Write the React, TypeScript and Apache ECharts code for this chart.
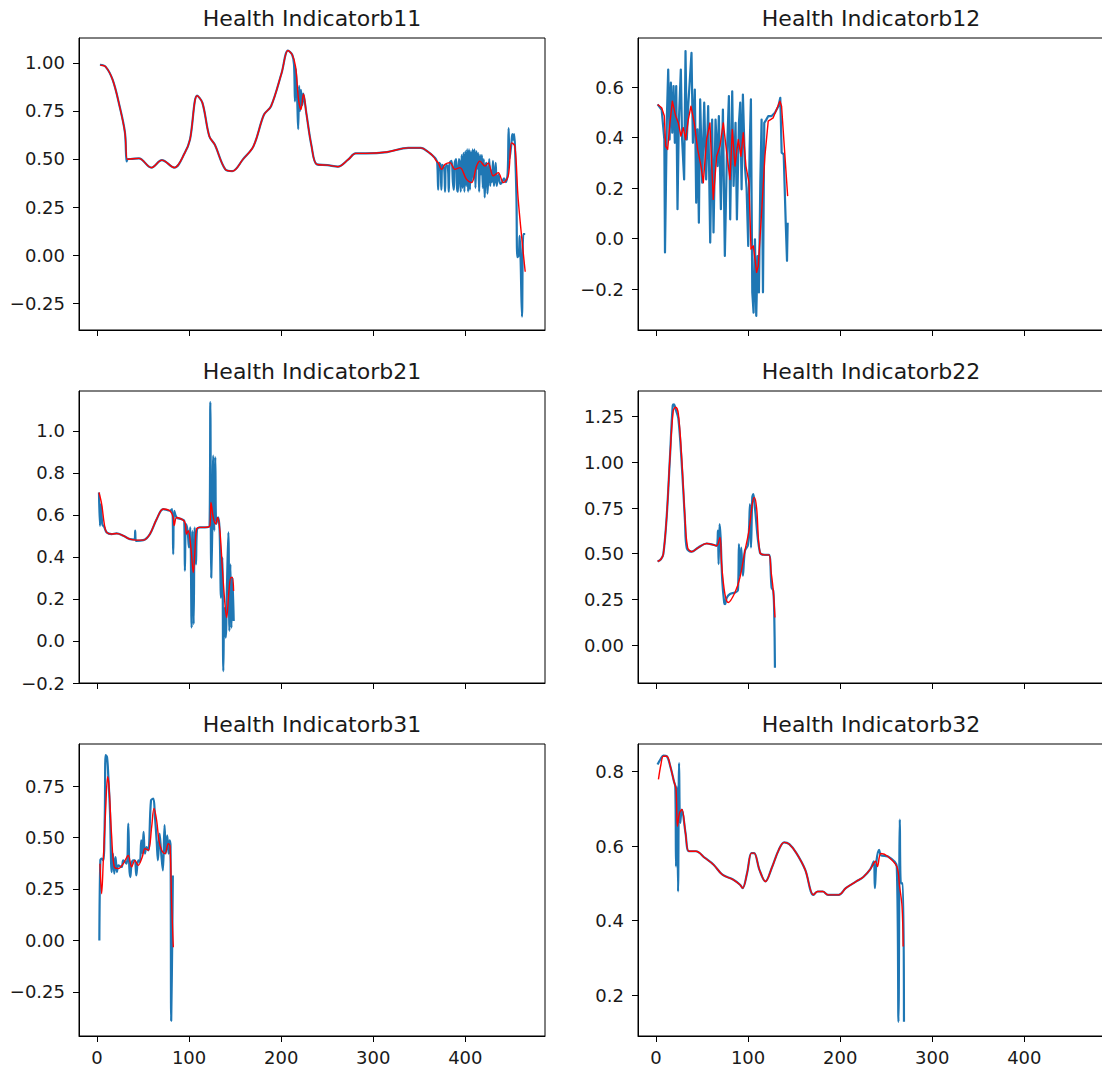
import React, { useEffect, useRef } from "react";
import * as echarts from "echarts";

type P = [number, number];

const titles = [
  "Health Indicatorb11",
  "Health Indicatorb12",
  "Health Indicatorb21",
  "Health Indicatorb22",
  "Health Indicatorb31",
  "Health Indicatorb32",
];

const xTicks = [0, 100, 200, 300, 400];
const xMin = -19.5;

const yTicks11 = [-0.25, 0, 0.25, 0.5, 0.75, 1.0];
const yTicks12 = [-0.2, 0, 0.2, 0.4, 0.6];
const yTicks21 = [-0.2, 0, 0.2, 0.4, 0.6, 0.8, 1.0];
const yTicks22 = [0, 0.25, 0.5, 0.75, 1.0, 1.25];
const yTicks31 = [-0.25, 0, 0.25, 0.5, 0.75];
const yTicks32 = [0.2, 0.4, 0.6, 0.8];

const yLimits: P[] = [
  [-0.389, 1.129],
  [-0.362, 0.794],
  [-0.2, 1.19],
  [-0.207, 1.39],
  [-0.4645, 0.9545],
  [0.09, 0.874],
];
const yDecimals = [2, 1, 1, 2, 2, 1];

// ---- b11 ----
const b11Raw: P[] = [
  [3.2, 0.99], [9.3, 0.98], [17, 0.912], [24.6, 0.774], [30.4, 0.637], [32.2, 0.487], [33.5, 0.5],
  [36.4, 0.5], [45.6, 0.503], [59, 0.455], [70.5, 0.494], [84, 0.455], [95.4, 0.532], [101, 0.601],
  [108.8, 0.829], [114.5, 0.792], [122, 0.618], [127.9, 0.575], [139.4, 0.446], [147, 0.437],
  [158.5, 0.498], [170, 0.567], [181.4, 0.731], [189, 0.774], [200.5, 0.947], [207.4, 1.064],
  [212, 1.042], [214, 0.99], [215, 0.8], [216, 0.97], [217.5, 0.8], [218.5, 0.655], [219.5, 0.88],
  [220.5, 0.75], [221.5, 0.86], [223, 0.78], [224, 0.84], [227.3, 0.74], [233, 0.567], [238.8, 0.472],
  [250.2, 0.468], [261.7, 0.46], [273, 0.498], [280.8, 0.529], [292, 0.529], [315, 0.536],
  [338, 0.558], [351.5, 0.558], [361, 0.532], [365, 0.515],
  [368, 0.5], [369.5, 0.48], [370.5, 0.34], [371.5, 0.48], [373, 0.47], [374, 0.34], [375, 0.47],
  [377, 0.45], [378, 0.33], [379, 0.47], [381, 0.46], [382, 0.33], [383, 0.48], [385, 0.49],
  [386.5, 0.38], [387.5, 0.34], [388.5, 0.48], [390, 0.5], [391, 0.35], [392, 0.33], [393, 0.5],
  [394, 0.47], [395, 0.33], [396, 0.52], [397, 0.35], [398, 0.53], [399, 0.33], [400, 0.54],
  [401, 0.36], [402, 0.55], [403, 0.33], [404, 0.55], [405, 0.34], [406, 0.54], [407, 0.38],
  [408, 0.55], [409, 0.4], [410, 0.55], [411, 0.35], [412, 0.54], [413, 0.45], [414, 0.53],
  [415, 0.33], [416, 0.52], [417, 0.42], [418, 0.52], [419, 0.35], [420, 0.5], [421, 0.3],
  [422, 0.46], [423, 0.48], [424, 0.32], [425, 0.42], [426, 0.5], [427, 0.36], [428, 0.44],
  [429, 0.38], [430, 0.49], [431, 0.36], [432, 0.4], [433, 0.48], [434, 0.36], [436, 0.42],
  [438, 0.37], [440, 0.38], [442, 0.4], [444, 0.38], [446, 0.43], [447, 0.66], [448, 0.5],
  [450, 0.58], [451, 0.63], [452, 0.6], [453, 0.63], [454, 0.55], [455.5, 0.3], [456.5, -0.01],
  [458, 0.0], [459, 0.1], [460, -0.02], [461.5, -0.32], [463, 0.11], [465, 0.11],
];
const b11Smooth: P[] = [
  [3.7, 0.987], [9.3, 0.98], [17, 0.912], [24.6, 0.774], [30.4, 0.637], [33, 0.498], [36.4, 0.5],
  [45.6, 0.503], [59, 0.455], [70.5, 0.494], [84, 0.455], [95.4, 0.532], [101, 0.601], [108.8, 0.829],
  [114.5, 0.792], [122, 0.618], [127.9, 0.575], [139.4, 0.446], [147, 0.437], [158.5, 0.498],
  [170, 0.567], [181.4, 0.731], [189, 0.774], [200.5, 0.947], [207.4, 1.064], [212, 1.042],
  [215.6, 0.981], [218.9, 0.809], [221.5, 0.757], [224.2, 0.838], [227.3, 0.74], [233, 0.567],
  [238.8, 0.472], [250.2, 0.468], [261.7, 0.46], [273, 0.498], [280.8, 0.529], [292, 0.529],
  [315, 0.536], [338, 0.558], [351.5, 0.558], [361, 0.532], [365, 0.515], [368.7, 0.489],
  [370.6, 0.48], [374.2, 0.446], [377.9, 0.472], [383.3, 0.481], [388.7, 0.446], [394.1, 0.455],
  [401.3, 0.394], [406.7, 0.377], [412.2, 0.463], [415.8, 0.489], [421.3, 0.463], [424.9, 0.48],
  [430.3, 0.412], [435.7, 0.429], [441.2, 0.377], [446.6, 0.412], [450.2, 0.584], [453.8, 0.567],
  [457.4, 0.29], [465, -0.086],
];

// ---- b12 ----
const b12Raw: P[] = [
  [1.8, 0.531], [6.2, 0.51], [9.1, 0.392], [9.8, -0.055], [11.9, 0.485], [13.3, 0.669], [14.8, 0.392],
  [16.2, 0.617], [17.7, 0.419], [19.1, 0.604], [20.5, 0.379], [22, 0.604], [23.4, 0.116], [24.8, 0.458],
  [27, 0.669], [28.4, 0.392], [30.6, 0.234], [32.1, 0.742], [33.5, 0.392], [35, 0.524], [38.6, 0.735],
  [40.1, 0.379], [42.2, 0.59], [43.7, 0.142], [45.1, 0.432], [46.6, 0.063], [48, 0.551], [50.2, 0.221],
  [52.4, 0.538], [54.5, 0.234], [56.7, 0.524], [58.9, -0.016], [61, 0.471], [62.5, 0.024], [64.7, 0.471],
  [66.9, 0.287], [68.3, 0.485], [70.5, 0.116], [72.7, 0.511], [74.8, -0.069], [77, 0.326], [79.2, 0.564],
  [80.6, 0.076], [82.8, 0.583], [84.3, 0.208], [86.4, 0.458], [87.9, 0.076], [90.1, 0.458], [91.5, 0.538],
  [93, 0.195], [94.4, 0.57], [96.6, 0.287], [98.4, 0.2], [100.2, -0.029], [101.7, 0.353], [103.1, 0.551],
  [104.6, -0.213], [106, -0.293], [107.5, -0.003], [108.9, -0.306], [110.4, -0.069], [111.8, -0.213],
  [113.3, 0.221], [114.7, 0.471], [116.2, -0.213], [117.6, 0.458], [119.8, 0.471], [122, 0.485],
  [125.6, 0.485], [129.2, 0.498], [132.9, 0.524], [135, 0.557], [136.5, 0.34], [138.7, 0.333],
  [140.9, 0.063], [142.3, -0.088], [143, 0.063],
];
const b12Smooth: P[] = [
  [1.8, 0.531], [6.2, 0.518], [9.1, 0.485], [10.5, 0.366], [12.7, 0.353], [15.2, 0.458], [17.8, 0.544],
  [21.4, 0.485], [24.3, 0.458], [27.1, 0.406], [29.7, 0.439], [32.2, 0.392], [35.1, 0.471], [38, 0.524],
  [41.6, 0.458], [45.3, 0.353], [48.9, 0.287], [51.4, 0.221], [55, 0.392], [58.6, 0.458], [62.2, 0.155],
  [65.9, 0.326], [69.5, 0.366], [73.1, 0.458], [76.8, 0.34], [80.4, 0.234], [82.9, 0.432], [85.8, 0.287],
  [89.4, 0.392], [92.3, 0.326], [94.8, 0.419], [97.7, 0.287], [101, 0.221], [103.2, -0.042],
  [105.7, -0.029], [109.3, -0.134], [111.1, -0.108], [114.7, 0.103], [118.3, 0.326], [121.9, 0.465],
  [127.3, 0.478], [134.6, 0.544], [136.4, 0.524], [143, 0.168],
];

// ---- b21 ----
const b21Raw: P[] = [
  [2.2, 0.707], [3.3, 0.548], [4.4, 0.652], [5.8, 0.556], [8, 0.541], [10.5, 0.517], [15.9, 0.509],
  [21.4, 0.512], [28.6, 0.501], [35.8, 0.485], [41, 0.483], [41.5, 0.525], [42.3, 0.477], [50.3, 0.48],
  [57.5, 0.509], [64.8, 0.58], [72, 0.628], [79.2, 0.62], [81.7, 0.628], [82.8, 0.413], [83.9, 0.62],
  [86.5, 0.588], [91.9, 0.58], [94.8, 0.572], [95.5, 0.334], [96.6, 0.557], [98.4, 0.525], [99.9, 0.445],
  [101.3, 0.541], [102.8, 0.063], [103.9, 0.525], [105, 0.08], [106.1, 0.541], [107.5, 0.365],
  [108.6, 0.53], [111.8, 0.541], [117.3, 0.541], [122.3, 0.549], [123.1, 1.137], [124.1, 0.302],
  [125.2, 0.525], [126.3, 0.882], [127.4, 0.525], [128.5, 0.874], [129.6, 0.557], [131.7, 0.588],
  [133.2, 0.525], [134.7, 0.206], [136.1, 0.397], [137.2, -0.143], [138.3, 0.159], [139.8, 0.016],
  [141.2, 0.27], [142.7, 0.517], [143.8, 0.048], [144.9, 0.365], [146, 0.063], [147.1, 0.302],
  [148.5, 0.095],
];
const b21Smooth: P[] = [
  [2.2, 0.707], [5.1, 0.652], [8, 0.556], [10.5, 0.517], [15.9, 0.509], [21.4, 0.512], [28.6, 0.501],
  [35.8, 0.485], [43, 0.48], [50.3, 0.48], [57.5, 0.509], [64.8, 0.58], [72, 0.628], [79.2, 0.62],
  [82.8, 0.588], [83.9, 0.549], [86.5, 0.588], [91.9, 0.58], [95.5, 0.565], [97.3, 0.509], [99.1, 0.525],
  [102, 0.445], [104.6, 0.326], [106.4, 0.43], [108.2, 0.533], [111.8, 0.541], [117.3, 0.541],
  [122.7, 0.549], [123.8, 0.66], [126.3, 0.588], [128.8, 0.557], [131, 0.588], [133.5, 0.525],
  [136.1, 0.35], [139, 0.175], [140.8, 0.111], [143.3, 0.238], [145.5, 0.302], [147, 0.302],
  [148.4, 0.238],
];

// ---- b22 ----
const b22Raw: P[] = [
  [1.8, 0.458], [5.4, 0.47], [8, 0.498], [11.6, 0.699], [15.2, 1.027], [18.2, 1.31], [19.5, 1.317],
  [21.4, 1.29], [24.3, 1.24], [27.9, 1.0], [31.5, 0.68], [33.5, 0.53], [38.8, 0.511], [46, 0.534],
  [55, 0.556], [62.2, 0.549], [65.9, 0.543], [67.3, 0.626], [68, 0.443], [69.1, 0.662], [70.2, 0.589],
  [72, 0.352], [74.1, 0.233], [75, 0.224], [77, 0.26], [80.4, 0.28], [85.8, 0.288], [89, 0.3],
  [90.1, 0.553], [91.2, 0.38], [92.6, 0.534], [94.4, 0.38], [96.6, 0.516], [100, 0.55], [102.1, 0.772],
  [103.2, 0.534], [104.6, 0.808], [105.7, 0.826], [107.5, 0.75], [112.9, 0.507], [118.3, 0.494],
  [122.7, 0.494], [125.6, 0.315], [127.4, 0.297], [128.5, 0.151], [129.2, -0.123],
];
const b22Smooth: P[] = [
  [1.8, 0.458], [5.4, 0.47], [8, 0.498], [11.6, 0.699], [15.2, 1.027], [18.8, 1.283], [21.4, 1.301],
  [24.3, 1.265], [27.9, 1.027], [31.5, 0.699], [34.4, 0.534], [38.8, 0.511], [46, 0.534], [55, 0.556],
  [62.2, 0.549], [65.9, 0.543], [69.5, 0.589], [71.3, 0.443], [74.9, 0.279], [78.5, 0.233],
  [85.8, 0.288], [91.2, 0.37], [96.6, 0.516], [101, 0.626], [104.6, 0.772], [106.8, 0.808],
  [109.3, 0.75], [112.9, 0.507], [118.3, 0.494], [122.7, 0.494], [124.9, 0.407], [127.4, 0.297],
  [129.2, 0.151],
];

// ---- b31 ----
const b31Raw: P[] = [
  [2.6, 0.0], [3.7, 0.389], [5.1, 0.397], [6.9, 0.389], [8.5, 0.6], [9.4, 0.9], [10.9, 0.892],
  [12.3, 0.8], [14.1, 0.632], [16, 0.332], [17.4, 0.422], [18.8, 0.324], [20.2, 0.405], [21.7, 0.332],
  [23.2, 0.365], [26.8, 0.357], [28.6, 0.389], [32.2, 0.373], [34, 0.568], [35.1, 0.357], [36.2, 0.308],
  [37.6, 0.373], [39.4, 0.389], [41.2, 0.389], [42.7, 0.316], [44.8, 0.389], [46.6, 0.381],
  [48.1, 0.486], [49.5, 0.422], [50.6, 0.527], [52.1, 0.422], [53.9, 0.454], [55.8, 0.438],
  [58.7, 0.681], [61.2, 0.689], [63, 0.6], [64.8, 0.486], [66.2, 0.389], [68, 0.519], [69.8, 0.422],
  [71.6, 0.34], [73.4, 0.56], [74.8, 0.422], [76.3, 0.51], [77.8, 0.422], [78.9, 0.486], [79.9, 0.454],
  [80.6, -0.39], [81.7, -0.017], [82.4, 0.316],
];
const b31Smooth: P[] = [
  [3.3, 0.373], [5.1, 0.227], [6.9, 0.389], [9.4, 0.632], [11.6, 0.795], [13.1, 0.746], [16, 0.503],
  [18.8, 0.357], [23.2, 0.349], [28.6, 0.373], [34, 0.413], [37.6, 0.357], [41.2, 0.389], [44.8, 0.365],
  [49.2, 0.405], [52.1, 0.446], [55.8, 0.438], [59.4, 0.552], [61.9, 0.641], [64.8, 0.584],
  [67.3, 0.486], [70.2, 0.438], [73.8, 0.422], [77.5, 0.47], [79.3, 0.46], [81.1, 0.178], [82.9, -0.033],
];

// ---- b32 ----
const b32Raw: P[] = [
  [1.7, 0.819], [5.4, 0.835], [8, 0.843], [11.8, 0.841], [15.6, 0.814], [19.5, 0.774], [21, 0.76],
  [21.8, 0.545], [22.8, 0.76], [24, 0.478], [25.1, 0.823], [26.3, 0.662], [28.2, 0.698], [32.1, 0.635],
  [35.8, 0.586], [43.4, 0.586], [53.2, 0.568], [62.6, 0.55], [72.2, 0.523], [83.7, 0.51], [91.3, 0.496],
  [94.1, 0.487], [99, 0.528], [103.6, 0.581], [106.6, 0.581], [112.4, 0.536], [118.9, 0.505],
  [125.7, 0.541], [133.4, 0.59], [139.2, 0.61], [144.8, 0.605], [152.5, 0.581], [162.1, 0.536],
  [170.9, 0.469], [175.5, 0.478], [181.2, 0.478], [186.9, 0.469], [198.4, 0.469], [206.1, 0.487],
  [217.5, 0.505], [225.2, 0.517], [232.8, 0.538], [236.5, 0.559], [237.7, 0.487], [239.5, 0.56],
  [242.3, 0.59], [244.3, 0.575], [251.9, 0.572], [261.5, 0.545], [263.3, 0.128], [264.8, 0.671],
  [266, 0.5], [268, 0.5], [269.3, 0.128],
];
const b32Smooth: P[] = [
  [2.7, 0.779], [5.4, 0.819], [8, 0.841], [11.8, 0.841], [15.6, 0.814], [19.5, 0.774], [21.8, 0.752],
  [23.3, 0.653], [25.6, 0.689], [28.2, 0.698], [32.1, 0.635], [35.8, 0.586], [43.4, 0.586],
  [53.2, 0.568], [62.6, 0.55], [72.2, 0.523], [83.7, 0.51], [91.3, 0.496], [94.1, 0.487], [99, 0.528],
  [103.6, 0.581], [106.6, 0.581], [112.4, 0.536], [118.9, 0.505], [125.7, 0.541], [133.4, 0.59],
  [139.2, 0.61], [144.8, 0.605], [152.5, 0.581], [162.1, 0.536], [170.9, 0.469], [175.5, 0.478],
  [181.2, 0.478], [186.9, 0.469], [198.4, 0.469], [206.1, 0.487], [217.5, 0.505], [225.2, 0.517],
  [232.8, 0.538], [238.5, 0.559], [240.5, 0.545], [244.3, 0.58], [251.9, 0.572], [261.5, 0.545],
  [264.5, 0.492], [267.2, 0.438], [268.4, 0.33],
];

const rawSeries = [b11Raw, b12Raw, b21Raw, b22Raw, b31Raw, b32Raw];
const smoothSeries = [b11Smooth, b12Smooth, b21Smooth, b22Smooth, b31Smooth, b32Smooth];
const yTicks = [yTicks11, yTicks12, yTicks21, yTicks22, yTicks31, yTicks32];

// layout & style
const colLeft = [79, 638];
const colWidth = [466, 500];
const pxPerUnit = 466 / 506;
const rowTop = [38, 391, 744];
const plotH = 292;
const curveSmooth = [0.35, 0, 0.35, 0.35, 0.35, 0.35];
const FONT = "DejaVu Sans";
const TEXT = "#1a1a1a";

function fmt(v: number, d: number) {
  const s = Math.abs(v).toFixed(d);
  return (v < -1e-9 ? "\u2212" : "") + s;
}

function buildOption() {
  const grid: any[] = [];
  const xAxis: any[] = [];
  const yAxis: any[] = [];
  const series: any[] = [];
  const title: any[] = [];
  for (let i = 0; i < 6; i++) {
    const col = i % 2;
    const row = Math.floor(i / 2);
    const w = colWidth[col];
    grid.push({
      left: colLeft[col],
      top: rowTop[row],
      width: w,
      height: plotH,
      show: true,
      borderColor: "#000",
      borderWidth: 1,
      backgroundColor: "transparent",
    });
    title.push({
      text: titles[i],
      left: colLeft[col] + 233,
      top: rowTop[row] - 31,
      textAlign: "center",
      padding: 0,
      textStyle: { fontFamily: FONT, fontSize: 22, fontWeight: "normal", color: TEXT },
    });
    xAxis.push({
      type: "value",
      gridIndex: i,
      min: xMin,
      max: xMin + w / pxPerUnit,
      splitLine: { show: false },
      axisLine: { show: true, onZero: false, lineStyle: { color: "#000", width: 1 } },
      axisTick: { show: true, inside: false, length: 6, lineStyle: { color: "#000", width: 1 }, customValues: xTicks },
      axisLabel: {
        show: row === 2,
        customValues: xTicks,
        margin: 12,
        fontFamily: FONT,
        fontSize: 18,
        color: TEXT,
        formatter: (v: number) => String(v),
      },
    });
    const d = yDecimals[i];
    yAxis.push({
      type: "value",
      gridIndex: i,
      min: yLimits[i][0],
      max: yLimits[i][1],
      splitLine: { show: false },
      axisLine: { show: true, onZero: false, lineStyle: { color: "#000", width: 1 } },
      axisTick: { show: true, inside: false, length: 6, lineStyle: { color: "#000", width: 1 }, customValues: yTicks[i] },
      axisLabel: {
        customValues: yTicks[i],
        margin: 14,
        fontFamily: FONT,
        fontSize: 18,
        color: TEXT,
        formatter: (v: number) => fmt(v, d),
      },
    });
    series.push({
      type: "line",
      xAxisIndex: i,
      yAxisIndex: i,
      data: rawSeries[i],
      symbol: "none",
      silent: true,
      clip: true,
      smooth: curveSmooth[i],
      z: 2,
      lineStyle: { color: "#1f77b4", width: 2.2, join: "round" },
    });
    series.push({
      type: "line",
      xAxisIndex: i,
      yAxisIndex: i,
      data: smoothSeries[i],
      symbol: "none",
      silent: true,
      clip: true,
      smooth: curveSmooth[i],
      z: 3,
      lineStyle: { color: "#ff0000", width: 1.4, join: "round" },
    });
  }
  return {
    animation: false,
    backgroundColor: "#ffffff",
    title,
    grid,
    xAxis,
    yAxis,
    series,
  };
}

export default function App() {
  const ref = useRef<HTMLDivElement>(null);
  useEffect(() => {
    document.body.style.margin = "0";
    const chart = echarts.init(ref.current as HTMLDivElement, null, { renderer: "svg" });
    chart.setOption(buildOption() as any);
    return () => {
      chart.dispose();
    };
  }, []);
  return (
    <div style={{ width: 1102, height: 1071, overflow: "hidden", position: "relative" }}>
      <div ref={ref} style={{ width: 1160, height: 1071 }} />
    </div>
  );
}
